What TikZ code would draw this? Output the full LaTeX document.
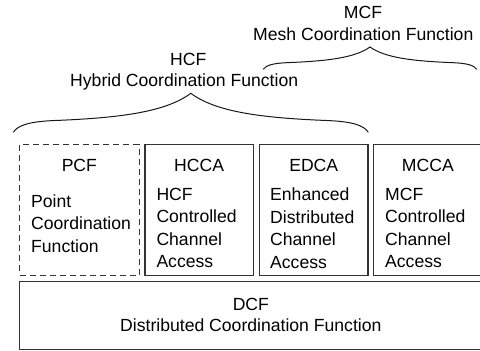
\documentclass[tikz,border=0pt]{standalone}
\usepackage{fontspec}
\setmainfont{Liberation Sans}
\usetikzlibrary{positioning}

\begin{document}
\begin{tikzpicture}[x=1pt,y=-1pt,
  every node/.style={font=\fontsize{17.6}{22.4}\selectfont, inner sep=0pt},
  fnbox/.style={draw=black!80, line width=1.2pt, anchor=north west, minimum height=130.5pt},
  fntitle/.style={anchor=base},
  fndesc/.style={align=left, anchor=north west},
  curly/.style={draw=black!90, line width=1pt}]
  \useasboundingbox (0,0) rectangle (480,351);

  % base layer
  \node[fnbox, minimum width=462.5pt, minimum height=68pt] (dcf) at (19,281) {};
  \node[fntitle, below=29pt of dcf.north, anchor=base] (dcftitle) {DCF};
  \node[fntitle, below=50.7pt of dcf.north, anchor=base] (dcfname) {Distributed Coordination Function};

  % access functions
  \node[fnbox, dash pattern=on 6pt off 4pt, minimum width=119.5pt] (pcf) at (19,144) {};
  \node[fnbox, minimum width=108.5pt] (hcca) at (144.3,144) {};
  \node[fnbox, minimum width=108.3pt] (edca) at (259,144) {};
  \node[fnbox, minimum width=108.5pt] (mcca) at (373,144) {};

  \node[fntitle, below=27pt of pcf.north, anchor=base] (pcftitle) {PCF};
  \node[fntitle, below=27pt of hcca.north, anchor=base] (hccatitle) {HCCA};
  \node[fntitle, below=27pt of edca.north, anchor=base] (edcatitle) {EDCA};
  \node[fntitle, below=27pt of mcca.north, anchor=base] (mccatitle) {MCCA};

  \node[fndesc, below right=50.5pt and 12pt of pcf.north west] (pcfname) {Point\\Coordination\\Function};
  \node[fndesc, below right=44pt and 12pt of hcca.north west] (hccaname) {HCF\\Controlled\\Channel\\Access};
  \node[fndesc, below right=44pt and 11pt of edca.north west] (edcaname) {Enhanced\\Distributed\\Channel\\Access};
  \node[fndesc, below right=44pt and 12pt of mcca.north west] (mccaname) {MCF\\Controlled\\Channel\\Access};

  % coordination functions on top
  \node[fntitle] (hcf) at (188.3,65) {HCF};
  \node[fntitle] (hcfname) at (184.2,86) {Hybrid Coordination Function};
  \node[fntitle] (mcf) at (363,18.3) {MCF};
  \node[fntitle] (mcfname) at (363.3,40) {Mesh Coordination Function};

  \coordinate (hcfL) at (13.3,132.3);
  \coordinate (hcfT) at (190.8,93.3);
  \coordinate (hcfR) at (368.3,132.3);
  \draw[curly] (hcfL) .. controls +(4.7,-7.3) and +(-25,1) .. ++(41.7,-11.8)
    .. controls +(65,-2.6) and +(-25,18.7) .. (hcfT)
    .. controls +(25,18.7) and +(-65,-2.6) .. ++(135.8,27.2)
    .. controls +(25,1) and +(-4.7,-7.3) .. (hcfR);

  \coordinate (mcfL) at (263.3,69.3);
  \coordinate (mcfT) at (370,47);
  \coordinate (mcfR) at (476.7,69.3);
  \draw[curly] (mcfL) .. controls +(2.8,-4.2) and +(-15,0.6) .. ++(25.1,-6.7)
    .. controls +(39.1,-1.5) and +(-15,10.7) .. (mcfT)
    .. controls +(15,10.7) and +(-39.1,-1.5) .. ++(81.6,15.6)
    .. controls +(15,0.6) and +(-2.8,-4.2) .. (mcfR);
\end{tikzpicture}
\end{document}
